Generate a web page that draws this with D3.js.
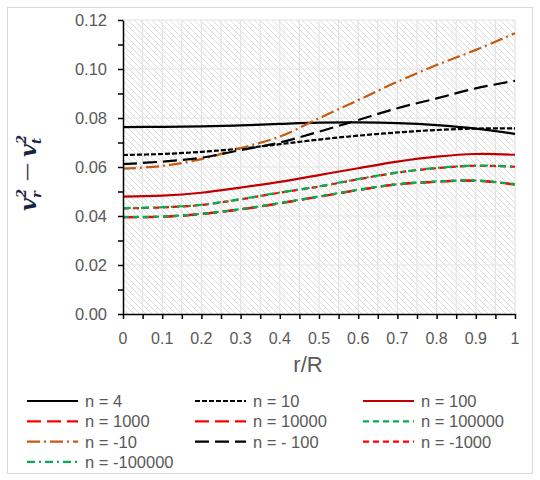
<!DOCTYPE html>
<html>
<head>
<meta charset="utf-8">
<script src="https://cdn.jsdelivr.net/npm/d3@7"></script>
<style>
  body { margin: 0; background: #fff; }
  svg { display: block; }
</style>
</head>
<body>
<svg id="chart" width="540" height="480"></svg>
<script>
// r/R positions
var rR = [0, 0.1, 0.2, 0.3, 0.4, 0.5, 0.6, 0.7, 0.8, 0.9, 1];

// series values
var nPos4 = [0.0763, 0.0764, 0.0766, 0.0770, 0.0776, 0.0781, 0.0782, 0.0779, 0.0771, 0.0757, 0.0735];
var nPos10 = [0.0649, 0.0653, 0.0662, 0.0675, 0.0693, 0.0712, 0.0728, 0.0741, 0.0751, 0.0757, 0.0758];
var nPos100 = [0.0479, 0.0483, 0.0495, 0.0516, 0.0539, 0.0567, 0.0595, 0.0622, 0.0642, 0.0653, 0.0650];
var nPos1000 = [0.0395, 0.0397, 0.0408, 0.0427, 0.0452, 0.0479, 0.0506, 0.0529, 0.0540, 0.0544, 0.0529];
var nPos10000 = [0.0395, 0.0397, 0.0408, 0.0427, 0.0452, 0.0479, 0.0506, 0.0529, 0.0540, 0.0544, 0.0529];
var nPos100000 = [0.0396, 0.0398, 0.0409, 0.0428, 0.0453, 0.0480, 0.0507, 0.0530, 0.0541, 0.0545, 0.0530];
var nNeg10 = [0.0593, 0.0604, 0.0632, 0.0677, 0.0724, 0.0799, 0.0873, 0.0948, 0.1016, 0.1078, 0.1146];
var nNeg100 = [0.0612, 0.0622, 0.0638, 0.0669, 0.0700, 0.0744, 0.0792, 0.0840, 0.0880, 0.0921, 0.0952];
var nNeg1000 = [0.0431, 0.0435, 0.0445, 0.0468, 0.0495, 0.0520, 0.0550, 0.0577, 0.0595, 0.0605, 0.0601];
var nNeg100000 = [0.0432, 0.0436, 0.0446, 0.0469, 0.0496, 0.0521, 0.0551, 0.0578, 0.0596, 0.0606, 0.0602];

var seriesNames = ['n = 4', 'n = 10', 'n = 100', 'n = 1000', 'n = 10000', 'n = 100000',
                   'n = -10', 'n = - 100', 'n = -1000', 'n = -100000'];
var seriesValues = [nPos4, nPos10, nPos100, nPos1000, nPos10000, nPos100000,
                    nNeg10, nNeg100, nNeg1000, nNeg100000];

var xTicks = [0, 0.1, 0.2, 0.3, 0.4, 0.5, 0.6, 0.7, 0.8, 0.9, 1];
var yTicks = [0, 0.02, 0.04, 0.06, 0.08, 0.10, 0.12];

(function() {
    // line styles
    var styles = [
        { color: '#000000', dash: null },
        { color: '#000000', dash: '5,2' },
        { color: '#C00000', dash: null },
        { color: '#FF0000', dash: '14,6' },
        { color: '#FF0000', dash: '14,6' },
        { color: '#00B050', dash: '6,4' },
        { color: '#C55A11', dash: '13,4,2,4' },
        { color: '#000000', dash: '14,6' },
        { color: '#FF0000', dash: '6,4' },
        { color: '#00B050', dash: '8,4,2,4' }
    ];

    var svg = d3.select('#chart');
    var plotLeft = 123, plotRight = 515, plotTop = 20, plotBottom = 314;

    var x = d3.scaleLinear().domain([0, 1]).range([plotLeft, plotRight]);
    var y = d3.scaleLinear().domain([0, 0.12]).range([plotBottom, plotTop]);

    // outer chart border
    svg.append('rect')
        .attr('x', 7.5).attr('y', 7.5)
        .attr('width', 525).attr('height', 466)
        .attr('fill', '#fff')
        .attr('stroke', '#d9d9d9');

    // hatch pattern for plot area
    var defs = svg.append('defs');
    var pat = defs.append('pattern')
        .attr('id', 'hatch')
        .attr('patternUnits', 'userSpaceOnUse')
        .attr('width', 6).attr('height', 6);
    pat.append('rect').attr('width', 6).attr('height', 6).attr('fill', '#fff');
    pat.append('path')
        .attr('d', 'M-1,-1 L7,7 M-1,5 L1,7 M5,-1 L7,1')
        .attr('stroke', '#dcdcdc')
        .attr('stroke-width', 1);

    svg.append('rect')
        .attr('x', plotLeft).attr('y', plotTop)
        .attr('width', plotRight - plotLeft).attr('height', plotBottom - plotTop)
        .attr('fill', 'url(#hatch)');

    // gridlines
    var grid = svg.append('g').attr('stroke', '#e3e3e3').attr('stroke-width', 1.2);
    grid.selectAll('line.v')
        .data(d3.range(1, 21).map(function(i) { return i * 0.05; }))
        .enter().append('line')
        .attr('class', 'v')
        .attr('x1', function(d) { return x(d); })
        .attr('x2', function(d) { return x(d); })
        .attr('y1', plotTop).attr('y2', plotBottom);
    grid.selectAll('line.h')
        .data(yTicks.slice(1))
        .enter().append('line')
        .attr('class', 'h')
        .attr('x1', plotLeft).attr('x2', plotRight)
        .attr('y1', function(d) { return y(d); })
        .attr('y2', function(d) { return y(d); });

    // series lines
    var line = d3.line()
        .x(function(d, i) { return x(rR[i]); })
        .y(function(d) { return y(d); })
        .curve(d3.curveCatmullRom);

    svg.append('g')
        .selectAll('path')
        .data(seriesValues)
        .enter().append('path')
        .attr('d', line)
        .attr('fill', 'none')
        .attr('stroke', function(d, i) { return styles[i].color; })
        .attr('stroke-width', 2.2)
        .attr('stroke-dasharray', function(d, i) { return styles[i].dash; });

    // axes
    var xAxis = d3.axisBottom(x)
        .tickValues(d3.range(0, 21).map(function(i) { return i * 0.05; }))
        .tickSize(5)
        .tickSizeOuter(0)
        .tickFormat('');
    svg.append('g')
        .attr('transform', 'translate(0,' + plotBottom + ')')
        .call(xAxis)
        .call(function(g) {
            g.select('.domain').attr('stroke', '#000').attr('stroke-width', 1.5);
            g.selectAll('.tick line').attr('stroke', '#000').attr('stroke-width', 1.5);
        });

    svg.append('g')
        .selectAll('text')
        .data(xTicks)
        .enter().append('text')
        .attr('x', function(d) { return x(d); })
        .attr('y', 344)
        .attr('text-anchor', 'middle')
        .attr('font-family', 'Liberation Sans, Arial, sans-serif')
        .attr('font-size', 16)
        .attr('fill', '#595959')
        .text(function(d) { return d3.format('')(d); });

    var yAxis = d3.axisLeft(y)
        .tickValues(d3.range(0, 13).map(function(i) { return i * 0.01; }))
        .tickSize(5)
        .tickSizeOuter(0)
        .tickFormat('');
    svg.append('g')
        .attr('transform', 'translate(' + plotLeft + ',0)')
        .call(yAxis)
        .call(function(g) {
            g.select('.domain').attr('stroke', '#000').attr('stroke-width', 1.5);
            g.selectAll('.tick line').attr('stroke', '#000').attr('stroke-width', 1.5);
        });

    svg.append('g')
        .selectAll('text')
        .data(yTicks)
        .enter().append('text')
        .attr('x', 107)
        .attr('y', function(d) { return y(d) + 6; })
        .attr('text-anchor', 'end')
        .attr('font-family', 'Liberation Sans, Arial, sans-serif')
        .attr('font-size', 16.5)
        .attr('fill', '#595959')
        .text(function(d) { return d3.format('.2f')(d); });

    // axis titles
    svg.append('text')
        .attr('x', 308).attr('y', 372)
        .attr('text-anchor', 'middle')
        .attr('font-family', 'Liberation Sans, Arial, sans-serif')
        .attr('font-size', 22)
        .attr('fill', '#595959')
        .text('r/R');

    var yl = svg.append('g')
        .attr('transform', 'translate(36,169) rotate(-90)')
        .attr('font-family', 'DejaVu Serif, serif')
        .attr('font-style', 'italic')
        .attr('font-weight', 'bold')
        .attr('fill', '#1c2340');
    yl.append('text').attr('x', -42).attr('y', 0).attr('font-size', 22).text('v');
    yl.append('text').attr('x', -29).attr('y', -10).attr('font-size', 13).text('2');
    yl.append('text').attr('x', -29).attr('y', 5).attr('font-size', 13).text('r');
    yl.append('text').attr('x', -12).attr('y', -3).attr('font-size', 18).attr('font-style', 'normal').attr('font-weight', 'normal').text('—');
    yl.append('text').attr('x', 12).attr('y', 0).attr('font-size', 22).text('v');
    yl.append('text').attr('x', 25).attr('y', -10).attr('font-size', 13).text('2');
    yl.append('text').attr('x', 25).attr('y', 5).attr('font-size', 13).text('t');

    // legend
    var colX = [27, 195, 363];
    var legend = svg.append('g')
        .selectAll('g')
        .data(seriesNames)
        .enter().append('g')
        .attr('transform', function(d, i) {
            return 'translate(' + colX[i % 3] + ',' + (401 + Math.floor(i / 3) * 20.3) + ')';
        });
    legend.append('line')
        .attr('x1', 0).attr('x2', 51)
        .attr('y1', 0).attr('y2', 0)
        .attr('stroke', function(d, i) { return styles[i].color; })
        .attr('stroke-width', 2.2)
        .attr('stroke-dasharray', function(d, i) { return styles[i].dash; });
    legend.append('text')
        .attr('x', 58).attr('y', 6)
        .attr('font-family', 'Liberation Sans, Arial, sans-serif')
        .attr('font-size', 16.5)
        .attr('fill', '#595959')
        .text(function(d) { return d; });
})();
</script>
</body>
</html>
